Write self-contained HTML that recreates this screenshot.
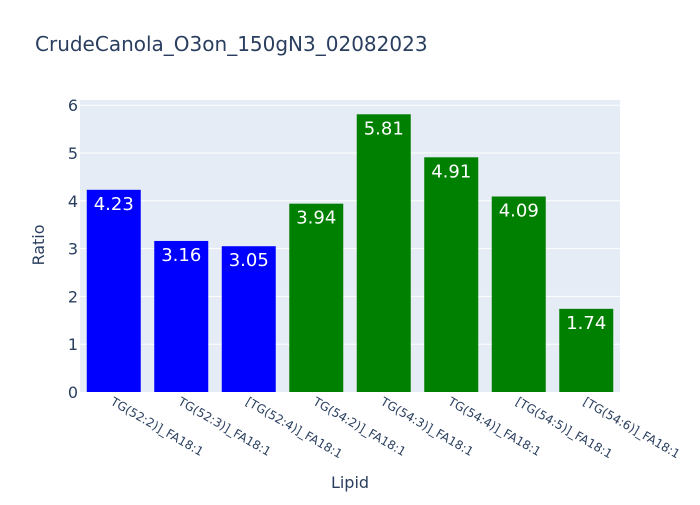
<!DOCTYPE html>
<html><head><meta charset="utf-8"><style>body{margin:0;background:#fff}svg{font-family:"DejaVu Sans",sans-serif}</style></head>
<body>
<svg width="700" height="500">
<rect x="0" y="0" width="700" height="500" fill="#fff"/>
<text x="35" y="51" font-size="20" fill="#2a3f5f">CrudeCanola_O3on_150gN3_02082023</text>
<rect x="80" y="100" width="540" height="292" fill="#e5ecf6"/>
<g id="grid"></g><g id="bars"></g><g id="ticks"></g>
<text x="350" y="488" font-size="16" fill="#2a3f5f" text-anchor="middle">Lipid</text>
<text transform="translate(44,245) rotate(-90)" font-size="16" fill="#2a3f5f" text-anchor="middle">Ratio</text>
</svg>
<script>
const categories=["TG(52:2)]_FA18:1","TG(52:3)]_FA18:1","[TG(52:4)]_FA18:1","TG(54:2)]_FA18:1","TG(54:3)]_FA18:1","TG(54:4)]_FA18:1","[TG(54:5)]_FA18:1","[TG(54:6)]_FA18:1"];
const values=[4.23,3.16,3.05,3.94,5.81,4.91,4.09,1.74];
const colors=["blue","blue","blue","green","green","green","green","green"];
const yTicks=[0,1,2,3,4,5,6];
const NS="http://www.w3.org/2000/svg";
const x0=80,w=540,yBase=392,unit=47.8;
const band=w/categories.length;
const y=v=>yBase-v*unit;
const xc=i=>x0+band*(i+0.5);
function mk(t,a,p){const e=document.createElementNS(NS,t);for(const k in a)e.setAttribute(k,a[k]);p.appendChild(e);return e;}
const grid=document.getElementById('grid'),bars=document.getElementById('bars'),ticks=document.getElementById('ticks');
yTicks.forEach(t=>{
 if(t>0){const l=mk('line',{x1:x0,x2:x0+w,y1:y(t),y2:y(t),stroke:'#fff','stroke-width':1},grid);
 
 }
 const tx=mk('text',{x:x0-2,y:y(t)+6,'font-size':16,fill:'#2a3f5f','text-anchor':'end'},ticks);tx.textContent=t;
 
 
});
values.forEach((v,i)=>{
 const bw=band*0.8;
 const r=mk('rect',{x:xc(i)-bw/2,y:y(v),width:bw,height:yBase-y(v),fill:colors[i]},bars);
 
 
 const t=mk('text',{x:xc(i),y:y(v)+20,'font-size':18,fill:'#fff','text-anchor':'middle'},bars);t.textContent=v.toFixed(2);
 
 
 const lx=xc(i)-4,ly=404;
 const l=mk('text',{x:lx,y:ly,'font-size':12,fill:'#2a3f5f',transform:`rotate(30 ${lx} ${ly})`},ticks);l.textContent=categories[i];
 
 
});
</script>
</body></html>
